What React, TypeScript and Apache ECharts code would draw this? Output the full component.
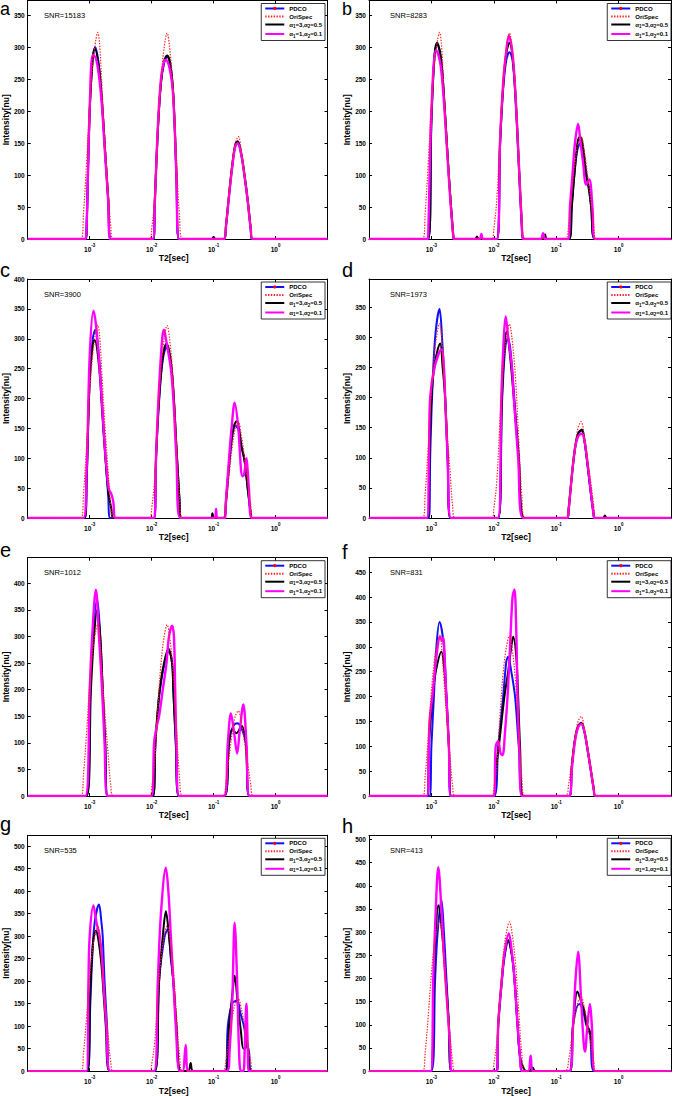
import React, { useEffect, useRef } from 'react';
import * as echarts from 'echarts';

type Pt = [number, number]; // [log10(T2 in s), intensity]

const X_MIN = 1e-4;
const X_MAX = 6.9;
const Y_INTERVAL = 50;
const PANEL_LETTERS = ['a', 'b', 'c', 'd', 'e', 'f', 'g', 'h'];
const SNR_LABELS = ['SNR=15183', 'SNR=8283', 'SNR=3900', 'SNR=1973', 'SNR=1012', 'SNR=831', 'SNR=535', 'SNR=413'];
const Y_MAX = [373, 373, 400, 397, 448, 479, 524, 509];
const NAMES = ['PDCO', 'OriSpec', 'α1=3,α2=0.5', 'α1=1,α2=0.1'];

// original spectrum (same in every panel)
const ORISPEC: Pt[] = [
  [-3.14, 0], [-3.1, 40], [-3.05, 120], [-3.0, 210], [-2.95, 275], [-2.9, 312], [-2.87, 323], [-2.84, 305], [-2.8, 235], [-2.75, 148], [-2.7, 75], [-2.66, 20], [-2.62, 0],
  [-2.03, 0], [-2.0, 15], [-1.95, 65], [-1.9, 165], [-1.85, 248], [-1.8, 298], [-1.75, 322], [-1.71, 300], [-1.65, 228], [-1.6, 128], [-1.55, 35], [-1.5, 0],
  [-0.86, 0], [-0.8, 25], [-0.75, 73], [-0.7, 118], [-0.65, 150], [-0.6, 160], [-0.55, 137], [-0.5, 100], [-0.45, 62], [-0.4, 22], [-0.36, 0],
];

// panel a
const PDCO_A: Pt[] = [
  [-3.06, 0], [-3.05, 15], [-3.0, 200], [-2.95, 285], [-2.91, 300], [-2.85, 270], [-2.8, 212], [-2.75, 135], [-2.7, 60], [-2.66, 0],
  [-1.97, 0], [-1.95, 55], [-1.9, 170], [-1.85, 243], [-1.8, 275], [-1.75, 285], [-1.7, 273], [-1.65, 225], [-1.6, 100], [-1.56, 0],
  [-0.83, 0], [-0.8, 20], [-0.75, 68], [-0.7, 112], [-0.65, 145], [-0.61, 150], [-0.55, 130], [-0.5, 98], [-0.45, 60], [-0.4, 15], [-0.38, 0],
];
const A3_A: Pt[] = [
  [-3.06, 0], [-3.05, 15], [-3.0, 200], [-2.95, 282], [-2.92, 298], [-2.85, 268], [-2.8, 212], [-2.75, 135], [-2.7, 60], [-2.66, 0],
  [-1.97, 0], [-1.95, 55], [-1.9, 170], [-1.85, 245], [-1.8, 277], [-1.75, 287], [-1.7, 275], [-1.65, 225], [-1.6, 100], [-1.56, 0],
  [-1.03, 0], [-1.0, 3], [-0.97, 0],
  [-0.83, 0], [-0.8, 20], [-0.75, 70], [-0.7, 115], [-0.65, 148], [-0.61, 153], [-0.55, 132], [-0.5, 100], [-0.45, 62], [-0.4, 15], [-0.38, 0],
];
const A1_A: Pt[] = [
  [-3.07, 0], [-3.05, 20], [-3.0, 205], [-2.95, 288], [-2.9, 283], [-2.85, 255], [-2.8, 205], [-2.75, 130], [-2.7, 58], [-2.67, 0],
  [-1.98, 0], [-1.95, 55], [-1.9, 175], [-1.85, 250], [-1.8, 278], [-1.77, 280], [-1.7, 262], [-1.65, 220], [-1.6, 100], [-1.56, 0],
  [-0.83, 0], [-0.8, 20], [-0.75, 68], [-0.7, 112], [-0.65, 145], [-0.61, 150], [-0.55, 130], [-0.5, 98], [-0.45, 60], [-0.4, 15], [-0.37, 0],
];

// panel b
const PDCO_B: Pt[] = [
  [-3.05, 0], [-3.0, 185], [-2.95, 285], [-2.91, 305], [-2.85, 285], [-2.8, 225], [-2.75, 145], [-2.7, 70], [-2.65, 5], [-2.64, 0],
  [-1.95, 0], [-1.9, 145], [-1.85, 235], [-1.8, 280], [-1.75, 292], [-1.7, 280], [-1.65, 215], [-1.6, 115], [-1.55, 15], [-1.53, 0],
  [-0.8, 0], [-0.75, 55], [-0.71, 100], [-0.66, 140], [-0.61, 150], [-0.57, 140], [-0.52, 105], [-0.47, 75], [-0.44, 50], [-0.38, 0],
];
const A3_B: Pt[] = [
  [-3.05, 0], [-3.0, 185], [-2.95, 288], [-2.91, 307], [-2.85, 285], [-2.8, 225], [-2.75, 145], [-2.7, 70], [-2.65, 5], [-2.64, 0],
  [-2.3, 0], [-2.27, 4], [-2.24, 0],
  [-1.95, 0], [-1.9, 150], [-1.85, 240], [-1.8, 290], [-1.75, 307], [-1.7, 285], [-1.65, 220], [-1.6, 120], [-1.55, 20], [-1.53, 0],
  [-1.21, 0], [-1.18, 7], [-1.15, 0],
  [-0.79, 0], [-0.75, 50], [-0.71, 100], [-0.66, 150], [-0.62, 160], [-0.58, 150], [-0.52, 100], [-0.48, 80], [-0.44, 50], [-0.38, 0],
];
const A1_B: Pt[] = [
  [-3.06, 0], [-3.05, 10], [-3.0, 200], [-2.93, 295], [-2.9, 292], [-2.85, 270], [-2.8, 215], [-2.75, 140], [-2.7, 65], [-2.65, 5], [-2.64, 0],
  [-2.23, 0], [-2.2, 8], [-2.17, 0],
  [-1.95, 0], [-1.9, 155], [-1.85, 245], [-1.8, 295], [-1.76, 318], [-1.7, 290], [-1.65, 220], [-1.6, 120], [-1.55, 20], [-1.53, 0],
  [-1.25, 0], [-1.21, 9], [-1.17, 0],
  [-0.81, 0], [-0.78, 50], [-0.74, 100], [-0.7, 150], [-0.65, 180], [-0.61, 150], [-0.57, 120], [-0.52, 85], [-0.47, 93], [-0.42, 50], [-0.38, 0],
];

// panel c
const PDCO_C: Pt[] = [
  [-3.08, 0], [-3.05, 60], [-3.0, 235], [-2.95, 300], [-2.91, 315], [-2.85, 270], [-2.8, 190], [-2.75, 110], [-2.7, 35], [-2.67, 0],
  [-1.96, 0], [-1.93, 95], [-1.88, 195], [-1.82, 265], [-1.76, 285], [-1.7, 268], [-1.65, 212], [-1.6, 118], [-1.55, 28], [-1.53, 0],
  [-0.83, 0], [-0.8, 25], [-0.75, 85], [-0.7, 135], [-0.65, 155], [-0.6, 148], [-0.55, 120], [-0.5, 95], [-0.45, 50], [-0.4, 5], [-0.39, 0],
];
const A3_C: Pt[] = [
  [-3.08, 0], [-3.05, 60], [-3.0, 230], [-2.95, 290], [-2.92, 298], [-2.85, 255], [-2.8, 180], [-2.75, 105], [-2.7, 45], [-2.65, 15], [-2.62, 0],
  [-1.96, 0], [-1.93, 100], [-1.88, 200], [-1.82, 270], [-1.76, 292], [-1.7, 270], [-1.65, 215], [-1.6, 120], [-1.55, 30], [-1.53, 0],
  [-1.04, 0], [-1.02, 8], [-0.99, 0],
  [-0.83, 0], [-0.8, 30], [-0.75, 90], [-0.7, 140], [-0.63, 162], [-0.59, 150], [-0.55, 120], [-0.5, 97], [-0.45, 50], [-0.4, 8], [-0.39, 0],
];
const A1_C: Pt[] = [
  [-3.1, 0], [-3.05, 80], [-3.0, 270], [-2.94, 347], [-2.9, 325], [-2.85, 265], [-2.8, 190], [-2.75, 110], [-2.72, 75], [-2.69, 48], [-2.65, 40], [-2.62, 28], [-2.58, 0],
  [-1.96, 0], [-1.93, 100], [-1.89, 200], [-1.83, 300], [-1.8, 315], [-1.77, 300], [-1.69, 250], [-1.65, 200], [-1.6, 100], [-1.54, 0],
  [-0.98, 0], [-0.96, 15], [-0.94, 0],
  [-0.82, 0], [-0.8, 30], [-0.75, 100], [-0.71, 150], [-0.66, 193], [-0.6, 150], [-0.57, 100], [-0.54, 70], [-0.51, 72], [-0.47, 100], [-0.45, 80], [-0.43, 50], [-0.38, 0],
];

// panel d
const PDCO_D: Pt[] = [
  [-3.04, 0], [-3.02, 100], [-2.99, 200], [-2.94, 300], [-2.87, 347], [-2.83, 300], [-2.78, 200], [-2.74, 100], [-2.69, 0],
  [-1.93, 0], [-1.87, 190], [-1.82, 280], [-1.78, 298], [-1.74, 285], [-1.68, 210], [-1.6, 100], [-1.52, 0],
  [-0.82, 0], [-0.8, 15], [-0.75, 70], [-0.7, 115], [-0.65, 140], [-0.59, 145], [-0.55, 130], [-0.5, 90], [-0.45, 45], [-0.4, 5], [-0.39, 0],
];
const A3_D: Pt[] = [
  [-3.06, 0], [-3.03, 100], [-3.0, 200], [-2.94, 260], [-2.86, 290], [-2.82, 250], [-2.78, 200], [-2.74, 100], [-2.7, 0],
  [-1.93, 0], [-1.87, 200], [-1.82, 300], [-1.79, 310], [-1.75, 280], [-1.68, 200], [-1.6, 100], [-1.51, 0],
  [-0.82, 0], [-0.8, 15], [-0.75, 70], [-0.7, 115], [-0.65, 140], [-0.59, 147], [-0.55, 130], [-0.5, 90], [-0.45, 45], [-0.4, 5], [-0.39, 0],
  [-0.25, 0], [-0.22, 4], [-0.19, 0],
];
const A1_D: Pt[] = [
  [-3.07, 0], [-3.04, 100], [-3.02, 200], [-2.95, 250], [-2.84, 280], [-2.8, 250], [-2.78, 200], [-2.74, 100], [-2.69, 0],
  [-1.93, 0], [-1.88, 200], [-1.84, 300], [-1.81, 335], [-1.77, 300], [-1.71, 250], [-1.68, 200], [-1.61, 100], [-1.53, 0],
  [-0.82, 0], [-0.8, 15], [-0.75, 70], [-0.7, 115], [-0.65, 135], [-0.59, 140], [-0.55, 130], [-0.5, 92], [-0.45, 47], [-0.4, 5], [-0.39, 0],
];

// panel e
const PDCO_E: Pt[] = [
  [-3.05, 0], [-2.99, 200], [-2.95, 300], [-2.88, 370], [-2.83, 300], [-2.79, 200], [-2.75, 100], [-2.71, 0],
  [-1.98, 0], [-1.94, 95], [-1.91, 145], [-1.87, 195], [-1.8, 245], [-1.72, 272], [-1.67, 250], [-1.65, 200], [-1.61, 100], [-1.56, 0],
  [-0.83, 0], [-0.75, 100], [-0.69, 130], [-0.62, 137], [-0.56, 130], [-0.48, 100], [-0.42, 0],
];
const A3_E: Pt[] = [
  [-3.05, 0], [-2.98, 200], [-2.93, 300], [-2.88, 350], [-2.83, 300], [-2.79, 200], [-2.75, 100], [-2.71, 0],
  [-1.98, 0], [-1.94, 100], [-1.91, 150], [-1.87, 200], [-1.8, 250], [-1.73, 277], [-1.67, 250], [-1.65, 200], [-1.61, 100], [-1.56, 0],
  [-0.83, 0], [-0.75, 100], [-0.7, 125], [-0.63, 118], [-0.55, 132], [-0.48, 100], [-0.42, 0],
];
const A1_E: Pt[] = [
  [-3.07, 0], [-3.0, 200], [-2.96, 300], [-2.9, 388], [-2.85, 300], [-2.8, 200], [-2.76, 100], [-2.71, 0],
  [-2.0, 0], [-1.96, 100], [-1.92, 130], [-1.88, 150], [-1.82, 200], [-1.76, 250], [-1.72, 300], [-1.67, 320], [-1.64, 300], [-1.62, 200], [-1.6, 100], [-1.56, 0],
  [-0.83, 0], [-0.77, 100], [-0.72, 155], [-0.67, 120], [-0.62, 80], [-0.58, 120], [-0.52, 172], [-0.47, 100], [-0.42, 0],
];

// panel f
const PDCO_F: Pt[] = [
  [-3.03, 0], [-3.0, 100], [-2.96, 200], [-2.92, 300], [-2.87, 350], [-2.8, 300], [-2.76, 200], [-2.72, 100], [-2.69, 0],
  [-2.0, 0], [-1.93, 100], [-1.85, 200], [-1.8, 270], [-1.77, 280], [-1.72, 250], [-1.66, 200], [-1.6, 100], [-1.53, 0],
  [-0.79, 0], [-0.75, 58], [-0.7, 112], [-0.65, 140], [-0.6, 146], [-0.55, 130], [-0.5, 95], [-0.45, 55], [-0.4, 15], [-0.37, 0],
];
const A3_F: Pt[] = [
  [-3.06, 0], [-3.04, 100], [-2.98, 200], [-2.93, 250], [-2.84, 290], [-2.79, 250], [-2.76, 200], [-2.72, 100], [-2.68, 0],
  [-2.0, 0], [-1.97, 50], [-1.92, 100], [-1.83, 200], [-1.77, 250], [-1.72, 300], [-1.69, 320], [-1.64, 280], [-1.61, 200], [-1.58, 100], [-1.53, 0],
  [-0.79, 0], [-0.75, 60], [-0.7, 115], [-0.65, 140], [-0.6, 147], [-0.55, 130], [-0.5, 95], [-0.45, 55], [-0.4, 15], [-0.37, 0],
];
const A1_F: Pt[] = [
  [-3.07, 0], [-3.03, 150], [-2.98, 205], [-2.92, 280], [-2.86, 320], [-2.83, 312], [-2.81, 318], [-2.78, 250], [-2.76, 200], [-2.72, 100], [-2.69, 0],
  [-2.0, 0], [-1.97, 100], [-1.93, 110], [-1.89, 85], [-1.86, 82], [-1.82, 130], [-1.78, 200], [-1.74, 300], [-1.7, 400], [-1.67, 415], [-1.64, 330], [-1.62, 200], [-1.59, 90], [-1.55, 0],
  [-0.79, 0], [-0.75, 55], [-0.7, 110], [-0.65, 138], [-0.6, 145], [-0.55, 130], [-0.5, 95], [-0.45, 55], [-0.4, 15], [-0.37, 0],
];

// panel g
const PDCO_G: Pt[] = [
  [-3.04, 0], [-2.99, 150], [-2.96, 250], [-2.92, 330], [-2.85, 370], [-2.81, 330], [-2.79, 300], [-2.76, 200], [-2.72, 100], [-2.68, 0],
  [-1.95, 0], [-1.88, 200], [-1.79, 300], [-1.74, 315], [-1.69, 250], [-1.65, 200], [-1.6, 100], [-1.53, 0],
  [-0.81, 0], [-0.77, 100], [-0.7, 150], [-0.62, 157], [-0.57, 130], [-0.51, 100], [-0.47, 65], [-0.43, 45], [-0.39, 0],
];
const A3_G: Pt[] = [
  [-3.04, 0], [-2.99, 180], [-2.95, 280], [-2.9, 312], [-2.87, 300], [-2.82, 250], [-2.79, 200], [-2.74, 100], [-2.68, 0],
  [-1.95, 0], [-1.88, 200], [-1.82, 300], [-1.77, 355], [-1.72, 300], [-1.65, 200], [-1.6, 100], [-1.53, 0],
  [-1.41, 0], [-1.37, 18], [-1.33, 0],
  [-0.81, 0], [-0.75, 100], [-0.69, 180], [-0.66, 212], [-0.61, 150], [-0.56, 90], [-0.52, 50], [-0.49, 50], [-0.46, 65], [-0.44, 40], [-0.4, 0],
];
const A1_G: Pt[] = [
  [-3.05, 0], [-3.02, 200], [-3.0, 300], [-2.94, 368], [-2.89, 330], [-2.84, 300], [-2.8, 250], [-2.78, 200], [-2.73, 100], [-2.67, 0],
  [-1.96, 0], [-1.9, 200], [-1.85, 350], [-1.77, 452], [-1.73, 400], [-1.69, 300], [-1.65, 200], [-1.61, 100], [-1.55, 0],
  [-1.5, 0], [-1.45, 58], [-1.41, 0],
  [-0.78, 0], [-0.74, 50], [-0.7, 150], [-0.66, 330], [-0.62, 200], [-0.59, 50], [-0.56, 0], [-0.52, 0], [-0.5, 40], [-0.47, 150], [-0.45, 60], [-0.43, 0],
];

// panel h
const PDCO_H: Pt[] = [
  [-3.0, 0], [-2.94, 200], [-2.9, 300], [-2.84, 370], [-2.8, 300], [-2.76, 200], [-2.72, 100], [-2.68, 0],
  [-1.95, 0], [-1.93, 95], [-1.87, 195], [-1.83, 245], [-1.77, 280], [-1.71, 250], [-1.67, 200], [-1.62, 100], [-1.58, 30], [-1.54, 0],
  [-0.79, 0], [-0.73, 100], [-0.63, 145], [-0.57, 130], [-0.52, 100], [-0.46, 80], [-0.39, 0],
];
const A3_H: Pt[] = [
  [-3.01, 0], [-2.96, 200], [-2.93, 300], [-2.89, 358], [-2.83, 300], [-2.77, 200], [-2.72, 100], [-2.68, 0],
  [-1.95, 0], [-1.93, 100], [-1.87, 200], [-1.83, 250], [-1.77, 283], [-1.71, 250], [-1.67, 200], [-1.62, 100], [-1.58, 30], [-1.52, 5], [-1.48, 0],
  [-1.43, 0], [-1.38, 8], [-1.34, 0],
  [-0.78, 0], [-0.73, 100], [-0.66, 172], [-0.6, 150], [-0.55, 130], [-0.51, 100], [-0.46, 85], [-0.42, 40], [-0.39, 0],
];
const A1_H: Pt[] = [
  [-3.01, 0], [-2.97, 200], [-2.93, 350], [-2.89, 440], [-2.84, 350], [-2.8, 250], [-2.75, 150], [-2.7, 50], [-2.68, 0],
  [-1.95, 0], [-1.93, 100], [-1.87, 200], [-1.83, 255], [-1.76, 297], [-1.71, 255], [-1.67, 200], [-1.62, 100], [-1.58, 30], [-1.55, 0],
  [-1.45, 0], [-1.41, 33], [-1.37, 0],
  [-0.79, 0], [-0.73, 100], [-0.69, 200], [-0.65, 258], [-0.6, 150], [-0.56, 60], [-0.54, 42], [-0.5, 100], [-0.46, 145], [-0.43, 100], [-0.38, 0],
];

const PANEL_PDCO = [PDCO_A, PDCO_B, PDCO_C, PDCO_D, PDCO_E, PDCO_F, PDCO_G, PDCO_H];
const PANEL_A3 = [A3_A, A3_B, A3_C, A3_D, A3_E, A3_F, A3_G, A3_H];
const PANEL_A1 = [A1_A, A1_B, A1_C, A1_D, A1_E, A1_F, A1_G, A1_H];

// ---- layout (pixels) ----
const COL_LEFT = [22, 369];
const COL_WIDTH = [305.5, 303];
const ROW_TOP = [0.5, 279, 557.7, 835.3];
const ROW_HEIGHT = [238.5, 239, 238.3, 239.4];
const LETTER_BASELINE = [10, 15, 276.5, 276.5, 557, 559, 831, 833];

const FONT = '"Liberation Sans", Arial, Helvetica, sans-serif';

function toData(pts: Pt[]) {
  return [[X_MIN, 0], ...pts.map(([l, v]) => [Math.pow(10, l), v]), [X_MAX, 0]];
}

function xLabel(v: number) {
  const e = Math.log10(v);
  const r = Math.round(e);
  if (Math.abs(e - r) > 1e-6 || r < -3 || r > 0) return '';
  return `{b|10}{s|${r}}`;
}

function legendFormatter(name: string) {
  const m = name.match(/^α1=([^,]+),α2=(.+)$/);
  if (m) return `{t|α}{s|1}{t|=${m[1]},α}{s|2}{t|=${m[2]}}`;
  return `{t|${name}}`;
}

function buildOption() {
  const grid: any[] = [];
  const xAxis: any[] = [];
  const yAxis: any[] = [];
  const series: any[] = [];
  const legend: any[] = [];
  const graphic: any[] = [];
  const axisLine = { show: true, onZero: false, lineStyle: { color: '#000', width: 1 } };
  const tick = { show: true, inside: true, length: 3, lineStyle: { color: '#000', width: 1 } };

  for (let i = 0; i < 8; i++) {
    const col = i % 2;
    const row = Math.floor(i / 2);
    const left = COL_LEFT[col];
    const top = ROW_TOP[row];
    const width = COL_WIDTH[col];
    const height = ROW_HEIGHT[row];
    grid.push({ left, top, width, height, containLabel: false, show: false });

    xAxis.push({
      type: 'log', logBase: 10, gridIndex: i, position: 'bottom', min: X_MIN, max: X_MAX,
      axisLine, axisTick: tick, splitLine: { show: false },
      axisLabel: {
        show: true, margin: 4, formatter: xLabel, color: '#000',
        rich: {
          b: { fontSize: 6.5, fontFamily: FONT, fontWeight: 'bold', color: '#000', lineHeight: 10, verticalAlign: 'bottom' },
          s: { fontSize: 4.5, fontFamily: FONT, fontWeight: 'bold', color: '#000', lineHeight: 5, verticalAlign: 'top' },
        },
      },
      name: 'T2[sec]', nameLocation: 'middle', nameGap: 11,
      nameTextStyle: { fontSize: 8.5, fontWeight: 'bold', fontFamily: FONT, color: '#000', padding: [0, 8, 0, 0] },
    });
    xAxis.push({
      type: 'log', logBase: 10, gridIndex: i, position: 'top', min: X_MIN, max: X_MAX,
      axisLine, axisTick: tick, splitLine: { show: false }, axisLabel: { show: false },
    });
    yAxis.push({
      type: 'value', gridIndex: i, position: 'left', min: 0, max: Y_MAX[i], interval: Y_INTERVAL,
      axisLine, axisTick: tick, splitLine: { show: false },
      axisLabel: {
        show: true, margin: 3, color: '#000', fontSize: 6.5, fontWeight: 'bold', fontFamily: FONT,
        formatter: (v: number) => (v % Y_INTERVAL === 0 ? String(v) : ''),
      },
      name: 'Intensity[nu]', nameLocation: 'middle', nameGap: 13,
      nameTextStyle: { fontSize: 8.5, fontWeight: 'bold', fontFamily: FONT, color: '#000' },
    });
    yAxis.push({
      type: 'value', gridIndex: i, position: 'right', min: 0, max: Y_MAX[i], interval: Y_INTERVAL,
      axisLine, axisTick: tick, splitLine: { show: false }, axisLabel: { show: false },
    });

    const base = {
      type: 'line', xAxisIndex: 2 * i, yAxisIndex: 2 * i, showSymbol: false, symbol: 'circle',
      smooth: 0.35, silent: true, animation: false, emphasis: { disabled: true },
    };
    series.push({
      ...base, name: NAMES[0], data: toData(PANEL_PDCO[i]),
      lineStyle: { color: '#1010ff', width: 2 }, itemStyle: { color: '#ff0000' },
    });
    series.push({
      ...base, name: NAMES[2], data: toData(PANEL_A3[i]),
      lineStyle: { color: '#000000', width: 2 }, itemStyle: { color: '#000000', opacity: 0 },
    });
    series.push({
      ...base, name: NAMES[3], data: toData(PANEL_A1[i]),
      lineStyle: { color: '#ff00ff', width: 2.4 }, itemStyle: { color: '#ff00ff', opacity: 0 },
    });
    series.push({
      ...base, name: NAMES[1], data: toData(ORISPEC),
      lineStyle: { color: '#ff2020', width: 1.2, type: [1.4, 1.4] }, itemStyle: { color: '#ff2020', opacity: 0 },
    });

    legend.push({
      show: true, orient: 'vertical', right: col === 0 ? 349 : 3, top: top + 3,
      itemWidth: 19, itemHeight: 4, itemGap: 2, padding: [2, 3, 2, 3],
      borderColor: '#000', borderWidth: 0.8, backgroundColor: '#fff',
      selectedMode: false, data: NAMES, formatter: legendFormatter,
      textStyle: {
        fontSize: 6, fontFamily: FONT, color: '#000',
        rich: {
          t: { fontSize: 6, fontWeight: 'bold', fontFamily: FONT, color: '#000', lineHeight: 9 },
          s: { fontSize: 4.5, fontWeight: 'bold', fontFamily: FONT, color: '#000', lineHeight: 5, verticalAlign: 'bottom' },
        },
      },
    });

    graphic.push({
      type: 'text', x: left + (col === 0 ? 22 : 21), y: top + 15, silent: true,
      style: { text: SNR_LABELS[i], fontSize: 7.5, fontFamily: FONT, fill: '#000', verticalAlign: 'middle' },
    });
    if (row === 0) {
      // first-row letters sit at the very top edge; keep their box inside the picture
      graphic.push({
        type: 'text', x: col === 0 ? 0 : 342, y: 0, silent: true,
        style: { text: PANEL_LETTERS[i], fontSize: 18, fontFamily: FONT, fill: '#000', verticalAlign: 'top' },
      });
    } else {
      graphic.push({
        type: 'text', x: col === 0 ? 0 : 342, y: LETTER_BASELINE[i] - 7, silent: true,
        style: { text: PANEL_LETTERS[i], fontSize: 20, fontFamily: FONT, fill: '#000', verticalAlign: 'middle' },
      });
    }
  }

  return {
    animation: false,
    backgroundColor: '#ffffff',
    textStyle: { fontFamily: FONT },
    grid, xAxis, yAxis, series, legend, graphic,
  };
}

export default function App() {
  const ref = useRef<HTMLDivElement>(null);
  useEffect(() => {
    if (!ref.current) return;
    const chart = echarts.init(ref.current, undefined, { renderer: 'svg', width: 674, height: 1096 });
    chart.setOption(buildOption() as any);
    return () => chart.dispose();
  }, []);
  return (
    <div
      ref={ref}
      style={{ position: 'fixed', left: 0, top: 0, width: 674, height: 1096, background: '#fff' }}
    />
  );
}
